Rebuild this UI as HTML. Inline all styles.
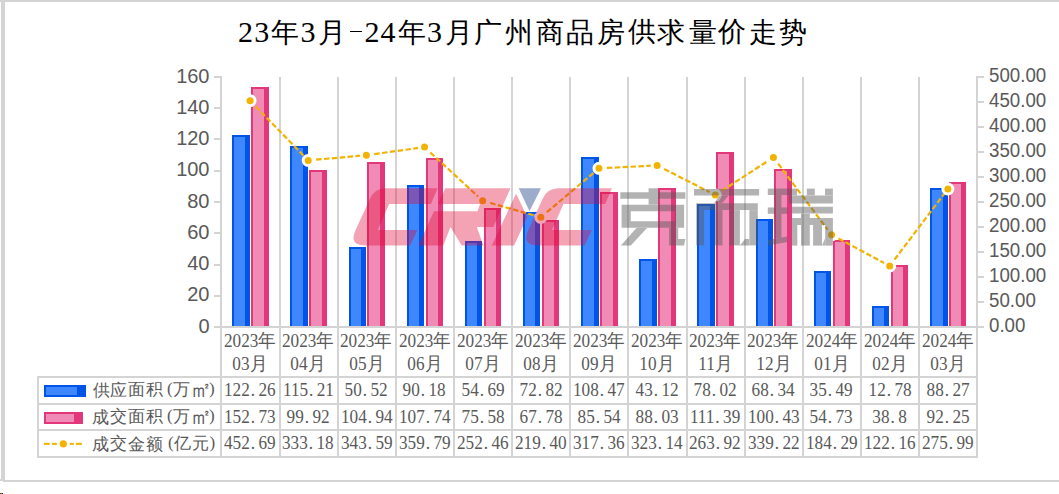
<!DOCTYPE html><html><head><meta charset="utf-8"><style>
*{margin:0;padding:0}
html,body{width:1059px;height:494px;overflow:hidden;background:#fff}
body{position:relative}
svg{position:absolute;left:0;top:0}
.tc,.td{position:absolute;width:40px;text-align:center;font-family:"Liberation Serif",serif;color:#000;top:14px;height:36px;line-height:36px}
.tc{font-size:27.5px;top:15.5px}
.td{font-size:30px;top:14.5px}
.lg{position:absolute;width:30px;height:25px;text-align:center;font-family:"Liberation Serif",serif;font-size:17px;line-height:25px;color:#595959}
.yl{position:absolute;left:150px;width:59.5px;text-align:right;font-family:"Liberation Sans",sans-serif;font-size:20px;line-height:22px;color:#595959}
.yr{position:absolute;left:989px;transform:scaleX(0.935);transform-origin:0 0;font-family:"Liberation Sans",sans-serif;font-size:20px;line-height:22px;color:#595959}
.cat{position:absolute;top:330px;width:58.15px;text-align:center;font-family:"Liberation Serif",serif;font-size:18.5px;line-height:23px;color:#595959;white-space:nowrap}
.cat span,.cell span{display:inline-block;transform:scaleX(0.93)}
.cell{position:absolute;width:58.15px;height:25px;text-align:center;font-family:"Liberation Serif",serif;font-size:18.5px;line-height:25px;color:#595959;white-space:nowrap}
.cell i{font-style:normal;display:inline-block;width:9.3px;text-align:left;text-indent:1px}
.leg{position:absolute;left:93px;height:25px;font-family:"Liberation Serif",serif;font-size:17.33px;line-height:25px;color:#595959;white-space:nowrap}
</style></head><body><svg width="1059" height="494" viewBox="0 0 1059 494"><rect x="0" y="0" width="1059" height="2" fill="#d4d4d4"/><rect x="1" y="0" width="4" height="480" fill="#d4d4d4"/><rect x="0" y="479" width="4" height="2" fill="#d4d4d4"/><rect x="3" y="480" width="1056" height="2" fill="#d4d4d4"/><rect x="0" y="493" width="1" height="1" fill="#f00"/><rect x="1" y="493" width="1" height="1" fill="#0c0"/><rect x="2" y="493" width="1" height="1" fill="#00f"/><rect x="220" y="76" width="2" height="382" fill="#d4d4d4"/><rect x="279" y="77" width="2" height="381" fill="#d4d4d4"/><rect x="337" y="77" width="2" height="381" fill="#d4d4d4"/><rect x="395" y="77" width="2" height="381" fill="#d4d4d4"/><rect x="453" y="77" width="2" height="381" fill="#d4d4d4"/><rect x="511" y="77" width="2" height="381" fill="#d4d4d4"/><rect x="569" y="77" width="2" height="381" fill="#d4d4d4"/><rect x="627" y="77" width="2" height="381" fill="#d4d4d4"/><rect x="686" y="77" width="2" height="381" fill="#d4d4d4"/><rect x="744" y="77" width="2" height="381" fill="#d4d4d4"/><rect x="802" y="77" width="2" height="381" fill="#d4d4d4"/><rect x="860" y="77" width="2" height="381" fill="#d4d4d4"/><rect x="918" y="77" width="2" height="381" fill="#d4d4d4"/><rect x="976" y="76" width="2" height="382" fill="#d4d4d4"/><rect x="214" y="326" width="7" height="2" fill="#d4d4d4"/><rect x="214" y="295" width="7" height="2" fill="#d4d4d4"/><rect x="214" y="264" width="7" height="2" fill="#d4d4d4"/><rect x="214" y="232" width="7" height="2" fill="#d4d4d4"/><rect x="214" y="201" width="7" height="2" fill="#d4d4d4"/><rect x="214" y="170" width="7" height="2" fill="#d4d4d4"/><rect x="214" y="138" width="7" height="2" fill="#d4d4d4"/><rect x="214" y="107" width="7" height="2" fill="#d4d4d4"/><rect x="214" y="76" width="7" height="2" fill="#d4d4d4"/><rect x="977" y="326" width="7" height="2" fill="#d4d4d4"/><rect x="977" y="301" width="7" height="2" fill="#d4d4d4"/><rect x="977" y="276" width="7" height="2" fill="#d4d4d4"/><rect x="977" y="251" width="7" height="2" fill="#d4d4d4"/><rect x="977" y="226" width="7" height="2" fill="#d4d4d4"/><rect x="977" y="201" width="7" height="2" fill="#d4d4d4"/><rect x="977" y="176" width="7" height="2" fill="#d4d4d4"/><rect x="977" y="151" width="7" height="2" fill="#d4d4d4"/><rect x="977" y="126" width="7" height="2" fill="#d4d4d4"/><rect x="977" y="101" width="7" height="2" fill="#d4d4d4"/><rect x="977" y="76" width="7" height="2" fill="#d4d4d4"/><rect x="221" y="326" width="756" height="2" fill="#d4d4d4"/><rect x="37" y="376" width="941" height="2" fill="#d4d4d4"/><rect x="37" y="403" width="941" height="2" fill="#d4d4d4"/><rect x="37" y="429" width="941" height="2" fill="#d4d4d4"/><rect x="37" y="456" width="941" height="2" fill="#d4d4d4"/><rect x="37" y="376" width="2" height="82" fill="#d4d4d4"/><rect x="232" y="135" width="18" height="191" fill="#0055e8"/><rect x="234" y="137" width="11" height="189" fill="#3f87ff"/><rect x="251" y="87" width="18" height="239" fill="#e2377a"/><rect x="253" y="89" width="11" height="237" fill="#ef8bb4"/><rect x="290" y="146" width="18" height="180" fill="#0055e8"/><rect x="292" y="148" width="11" height="178" fill="#3f87ff"/><rect x="309" y="170" width="18" height="156" fill="#e2377a"/><rect x="311" y="172" width="11" height="154" fill="#ef8bb4"/><rect x="349" y="247" width="17" height="79" fill="#0055e8"/><rect x="351" y="249" width="10" height="77" fill="#3f87ff"/><rect x="367" y="162" width="18" height="164" fill="#e2377a"/><rect x="369" y="164" width="11" height="162" fill="#ef8bb4"/><rect x="407" y="185" width="17" height="141" fill="#0055e8"/><rect x="409" y="187" width="10" height="139" fill="#3f87ff"/><rect x="426" y="158" width="17" height="168" fill="#e2377a"/><rect x="428" y="160" width="10" height="166" fill="#ef8bb4"/><rect x="465" y="241" width="17" height="85" fill="#0055e8"/><rect x="467" y="243" width="10" height="83" fill="#3f87ff"/><rect x="484" y="208" width="17" height="118" fill="#e2377a"/><rect x="486" y="210" width="10" height="116" fill="#ef8bb4"/><rect x="523" y="212" width="17" height="114" fill="#0055e8"/><rect x="525" y="214" width="10" height="112" fill="#3f87ff"/><rect x="542" y="220" width="17" height="106" fill="#e2377a"/><rect x="544" y="222" width="10" height="104" fill="#ef8bb4"/><rect x="581" y="157" width="18" height="169" fill="#0055e8"/><rect x="583" y="159" width="11" height="167" fill="#3f87ff"/><rect x="600" y="192" width="18" height="134" fill="#e2377a"/><rect x="602" y="194" width="11" height="132" fill="#ef8bb4"/><rect x="639" y="259" width="18" height="67" fill="#0055e8"/><rect x="641" y="261" width="11" height="65" fill="#3f87ff"/><rect x="658" y="188" width="18" height="138" fill="#e2377a"/><rect x="660" y="190" width="11" height="136" fill="#ef8bb4"/><rect x="697" y="204" width="18" height="122" fill="#0055e8"/><rect x="699" y="206" width="11" height="120" fill="#3f87ff"/><rect x="716" y="152" width="18" height="174" fill="#e2377a"/><rect x="718" y="154" width="11" height="172" fill="#ef8bb4"/><rect x="756" y="219" width="17" height="107" fill="#0055e8"/><rect x="758" y="221" width="10" height="105" fill="#3f87ff"/><rect x="774" y="169" width="18" height="157" fill="#e2377a"/><rect x="776" y="171" width="11" height="155" fill="#ef8bb4"/><rect x="814" y="271" width="17" height="55" fill="#0055e8"/><rect x="816" y="273" width="10" height="53" fill="#3f87ff"/><rect x="833" y="240" width="17" height="86" fill="#e2377a"/><rect x="835" y="242" width="10" height="84" fill="#ef8bb4"/><rect x="872" y="306" width="17" height="20" fill="#0055e8"/><rect x="874" y="308" width="10" height="18" fill="#3f87ff"/><rect x="891" y="265" width="17" height="61" fill="#e2377a"/><rect x="893" y="267" width="10" height="59" fill="#ef8bb4"/><rect x="930" y="188" width="18" height="138" fill="#0055e8"/><rect x="932" y="190" width="11" height="136" fill="#3f87ff"/><rect x="949" y="182" width="17" height="144" fill="#e2377a"/><rect x="951" y="184" width="10" height="142" fill="#ef8bb4"/><path d="M250.07,100.66 L308.23,160.41" fill="none" stroke="#f2b300" stroke-width="2.2" stroke-dasharray="5.5 2.4"/><path d="M308.23,160.41 L366.38,155.21" fill="none" stroke="#f2b300" stroke-width="2.2" stroke-dasharray="5.5 2.4"/><path d="M366.38,155.21 L424.52,147.10" fill="none" stroke="#f2b300" stroke-width="2.2" stroke-dasharray="5.5 2.4"/><path d="M424.52,147.10 L482.68,200.77" fill="none" stroke="#f2b300" stroke-width="2.2" stroke-dasharray="5.5 2.4"/><path d="M482.68,200.77 L540.83,217.30" fill="none" stroke="#f2b300" stroke-width="2.2" stroke-dasharray="5.5 2.4"/><path d="M540.83,217.30 L598.97,168.32" fill="none" stroke="#f2b300" stroke-width="2.2" stroke-dasharray="5.5 2.4"/><path d="M598.97,168.32 L657.12,165.43" fill="none" stroke="#f2b300" stroke-width="2.2" stroke-dasharray="5.5 2.4"/><path d="M657.12,165.43 L715.27,195.04" fill="none" stroke="#f2b300" stroke-width="2.2" stroke-dasharray="5.5 2.4"/><path d="M715.27,195.04 L773.42,157.39" fill="none" stroke="#f2b300" stroke-width="2.2" stroke-dasharray="5.5 2.4"/><path d="M773.42,157.39 L831.57,234.86" fill="none" stroke="#f2b300" stroke-width="2.2" stroke-dasharray="5.5 2.4"/><path d="M831.57,234.86 L889.73,265.92" fill="none" stroke="#f2b300" stroke-width="2.2" stroke-dasharray="5.5 2.4"/><path d="M889.73,265.92 L947.88,189.00" fill="none" stroke="#f2b300" stroke-width="2.2" stroke-dasharray="5.5 2.4"/><circle cx="250.07" cy="100.66" r="5.0" fill="#f2b300" stroke="#fff" stroke-width="3"/><circle cx="308.23" cy="160.41" r="5.0" fill="#f2b300" stroke="#fff" stroke-width="3"/><circle cx="366.38" cy="155.21" r="5.0" fill="#f2b300" stroke="#fff" stroke-width="3"/><circle cx="424.52" cy="147.10" r="5.0" fill="#f2b300" stroke="#fff" stroke-width="3"/><circle cx="482.68" cy="200.77" r="5.0" fill="#f2b300" stroke="#fff" stroke-width="3"/><circle cx="540.83" cy="217.30" r="5.0" fill="#f2b300" stroke="#fff" stroke-width="3"/><circle cx="598.97" cy="168.32" r="5.0" fill="#f2b300" stroke="#fff" stroke-width="3"/><circle cx="657.12" cy="165.43" r="5.0" fill="#f2b300" stroke="#fff" stroke-width="3"/><circle cx="715.27" cy="195.04" r="5.0" fill="#f2b300" stroke="#fff" stroke-width="3"/><circle cx="773.42" cy="157.39" r="5.0" fill="#f2b300" stroke="#fff" stroke-width="3"/><circle cx="831.57" cy="234.86" r="5.0" fill="#f2b300" stroke="#fff" stroke-width="3"/><circle cx="889.73" cy="265.92" r="5.0" fill="#f2b300" stroke="#fff" stroke-width="3"/><circle cx="947.88" cy="189.00" r="5.0" fill="#f2b300" stroke="#fff" stroke-width="3"/><rect x="44" y="385" width="42" height="12" fill="#0055e8"/><rect x="46" y="387" width="31" height="8" fill="#3f87ff"/><rect x="44" y="412" width="39" height="12" fill="#e2377a"/><rect x="46" y="414" width="28" height="8" fill="#ef8bb4"/><rect x="44" y="442.8" width="5.7" height="2.1" fill="#f2b300"/><rect x="52" y="442.8" width="4.8" height="2.1" fill="#f2b300"/><rect x="69.7" y="442.8" width="4.1" height="2.1" fill="#f2b300"/><rect x="75.9" y="442.8" width="5.9" height="2.1" fill="#f2b300"/><circle cx="63.3" cy="443.8" r="3.6" fill="#f2b300"/></svg><span class="td" style="left:225.5px;top:13.9px">2</span><span class="td" style="left:241.7px;top:13.9px">3</span><span class="tc" style="left:264.9px;top:14.6px">年</span><span class="td" style="left:288.1px;top:13.9px">3</span><span class="tc" style="left:312.2px;top:14.6px">月</span><span style="position:absolute;left:350px;top:31px;width:12px;height:1px;background:#000"></span><span class="td" style="left:352.1px;top:13.9px">2</span><span class="td" style="left:367.9px;top:13.9px">4</span><span class="tc" style="left:392.1px;top:14.6px">年</span><span class="td" style="left:414.6px;top:13.9px">3</span><span class="tc" style="left:439.0px;top:14.6px">月</span><span class="tc" style="left:468.3px;top:15.1px">广</span><span class="tc" style="left:499.0px;top:15.1px">州</span><span class="tc" style="left:530.4px;top:15.1px">商</span><span class="tc" style="left:560.1px;top:14.6px">品</span><span class="tc" style="left:590.6px;top:14.6px">房</span><span class="tc" style="left:621.5px;top:14.1px">供</span><span class="tc" style="left:651.4px;top:14.6px">求</span><span class="tc" style="left:682.5px;top:15.1px">量</span><span class="tc" style="left:711.9px;top:14.1px">价</span><span class="tc" style="left:742.9px;top:15.1px">走</span><span class="tc" style="left:772.5px;top:14.6px">势</span><div class="yl" style="top:314.5px">0</div><div class="yl" style="top:283.2px">20</div><div class="yl" style="top:252.0px">40</div><div class="yl" style="top:220.8px">60</div><div class="yl" style="top:189.5px">80</div><div class="yl" style="top:158.2px">100</div><div class="yl" style="top:127.0px">120</div><div class="yl" style="top:95.8px">140</div><div class="yl" style="top:64.5px">160</div><div class="yr" style="top:314.3px">0.00</div><div class="yr" style="top:289.3px">50.00</div><div class="yr" style="top:264.3px">100.00</div><div class="yr" style="top:239.3px">150.00</div><div class="yr" style="top:214.3px">200.00</div><div class="yr" style="top:189.3px">250.00</div><div class="yr" style="top:164.3px">300.00</div><div class="yr" style="top:139.3px">350.00</div><div class="yr" style="top:114.3px">400.00</div><div class="yr" style="top:89.3px">450.00</div><div class="yr" style="top:64.3px">500.00</div><div class="cat" style="left:221.00px"><span>2023年</span><br><span>03月</span></div><div class="cat" style="left:279.15px"><span>2023年</span><br><span>04月</span></div><div class="cat" style="left:337.30px"><span>2023年</span><br><span>05月</span></div><div class="cat" style="left:395.45px"><span>2023年</span><br><span>06月</span></div><div class="cat" style="left:453.60px"><span>2023年</span><br><span>07月</span></div><div class="cat" style="left:511.75px"><span>2023年</span><br><span>08月</span></div><div class="cat" style="left:569.90px"><span>2023年</span><br><span>09月</span></div><div class="cat" style="left:628.05px"><span>2023年</span><br><span>10月</span></div><div class="cat" style="left:686.20px"><span>2023年</span><br><span>11月</span></div><div class="cat" style="left:744.35px"><span>2023年</span><br><span>12月</span></div><div class="cat" style="left:802.50px"><span>2024年</span><br><span>01月</span></div><div class="cat" style="left:860.65px"><span>2024年</span><br><span>02月</span></div><div class="cat" style="left:918.80px"><span>2024年</span><br><span>03月</span></div><div class="cell" style="left:221.00px;top:378px"><span>122<i>.</i>26</span></div><div class="cell" style="left:279.15px;top:378px"><span>115<i>.</i>21</span></div><div class="cell" style="left:337.30px;top:378px"><span>50<i>.</i>52</span></div><div class="cell" style="left:395.45px;top:378px"><span>90<i>.</i>18</span></div><div class="cell" style="left:453.60px;top:378px"><span>54<i>.</i>69</span></div><div class="cell" style="left:511.75px;top:378px"><span>72<i>.</i>82</span></div><div class="cell" style="left:569.90px;top:378px"><span>108<i>.</i>47</span></div><div class="cell" style="left:628.05px;top:378px"><span>43<i>.</i>12</span></div><div class="cell" style="left:686.20px;top:378px"><span>78<i>.</i>02</span></div><div class="cell" style="left:744.35px;top:378px"><span>68<i>.</i>34</span></div><div class="cell" style="left:802.50px;top:378px"><span>35<i>.</i>49</span></div><div class="cell" style="left:860.65px;top:378px"><span>12<i>.</i>78</span></div><div class="cell" style="left:918.80px;top:378px"><span>88<i>.</i>27</span></div><div class="cell" style="left:221.00px;top:405px"><span>152<i>.</i>73</span></div><div class="cell" style="left:279.15px;top:405px"><span>99<i>.</i>92</span></div><div class="cell" style="left:337.30px;top:405px"><span>104<i>.</i>94</span></div><div class="cell" style="left:395.45px;top:405px"><span>107<i>.</i>74</span></div><div class="cell" style="left:453.60px;top:405px"><span>75<i>.</i>58</span></div><div class="cell" style="left:511.75px;top:405px"><span>67<i>.</i>78</span></div><div class="cell" style="left:569.90px;top:405px"><span>85<i>.</i>54</span></div><div class="cell" style="left:628.05px;top:405px"><span>88<i>.</i>03</span></div><div class="cell" style="left:686.20px;top:405px"><span>111<i>.</i>39</span></div><div class="cell" style="left:744.35px;top:405px"><span>100<i>.</i>43</span></div><div class="cell" style="left:802.50px;top:405px"><span>54<i>.</i>73</span></div><div class="cell" style="left:860.65px;top:405px"><span>38<i>.</i>8</span></div><div class="cell" style="left:918.80px;top:405px"><span>92<i>.</i>25</span></div><div class="cell" style="left:221.00px;top:431px"><span>452<i>.</i>69</span></div><div class="cell" style="left:279.15px;top:431px"><span>333<i>.</i>18</span></div><div class="cell" style="left:337.30px;top:431px"><span>343<i>.</i>59</span></div><div class="cell" style="left:395.45px;top:431px"><span>359<i>.</i>79</span></div><div class="cell" style="left:453.60px;top:431px"><span>252<i>.</i>46</span></div><div class="cell" style="left:511.75px;top:431px"><span>219<i>.</i>40</span></div><div class="cell" style="left:569.90px;top:431px"><span>317<i>.</i>36</span></div><div class="cell" style="left:628.05px;top:431px"><span>323<i>.</i>14</span></div><div class="cell" style="left:686.20px;top:431px"><span>263<i>.</i>92</span></div><div class="cell" style="left:744.35px;top:431px"><span>339<i>.</i>22</span></div><div class="cell" style="left:802.50px;top:431px"><span>184<i>.</i>29</span></div><div class="cell" style="left:860.65px;top:431px"><span>122<i>.</i>16</span></div><div class="cell" style="left:918.80px;top:431px"><span>275<i>.</i>99</span></div><span class="lg" style="left:86.4px;top:377.5px;font-size:17px">供</span><span class="lg" style="left:103.3px;top:378.0px;font-size:17px">应</span><span class="lg" style="left:121.6px;top:377.0px;font-size:17px">面</span><span class="lg" style="left:139.5px;top:377.0px;font-size:17px">积</span><span class="lg" style="left:154.9px;top:375.5px;font-size:17px">(</span><span class="lg" style="left:166.8px;top:377.0px;font-size:17px">万</span><span class="lg" style="left:185.6px;top:376.5px;font-size:22px">㎡</span><span class="lg" style="left:196.9px;top:375.5px;font-size:17px">)</span><span class="lg" style="left:85.3px;top:404.5px;font-size:17px">成</span><span class="lg" style="left:103.8px;top:404.0px;font-size:17px">交</span><span class="lg" style="left:121.6px;top:404.0px;font-size:17px">面</span><span class="lg" style="left:139.5px;top:404.0px;font-size:17px">积</span><span class="lg" style="left:154.9px;top:402.5px;font-size:17px">(</span><span class="lg" style="left:166.8px;top:404.0px;font-size:17px">万</span><span class="lg" style="left:185.6px;top:403.5px;font-size:22px">㎡</span><span class="lg" style="left:196.9px;top:402.5px;font-size:17px">)</span><span class="lg" style="left:85.3px;top:431.6px;font-size:17px">成</span><span class="lg" style="left:103.8px;top:431.1px;font-size:17px">交</span><span class="lg" style="left:121.0px;top:432.1px;font-size:17px">金</span><span class="lg" style="left:139.2px;top:431.6px;font-size:17px">额</span><span class="lg" style="left:155.9px;top:429.6px;font-size:17px">(</span><span class="lg" style="left:167.8px;top:431.1px;font-size:17px">亿</span><span class="lg" style="left:185.9px;top:431.1px;font-size:17px">元</span><span class="lg" style="left:197.4px;top:429.6px;font-size:17px">)</span><svg width="1059" height="494" viewBox="0 0 1059 494" style="position:absolute;left:0;top:0"><g opacity="0.37"><path d="M385.8,188.3 L437.6,188.3 L430.9,204 L389.2,204 L377.7,230 L417.5,230 L410.2,245.5 L365.5,245.5 Q348.5,245.5 355.6,230.1 L370.2,198.3 Q374.8,188.3 385.8,188.3 Z M445.3,188.3 L510.4,188.3 L493.3,227.1 L476.8,227.1 L483.4,245.5 L461.7,245.5 L450.5,227.1 L443.3,245.5 L418.3,245.5 L434,211.3 L477.5,211.3 L480.1,204 L438,204 Z M491.8,245.5 L516.1,193.6 L527.2,217.1 L514.1,245.5 Z M558.5,188.3 L611.9,188.3 L605.2,204 L563.5,204 L552.0,230 L591.8,230 L584.5,245.5 L538.2,245.5 Q521.2,245.5 528.3,230.1 L542.9,198.3 Q547.5,188.3 558.5,188.3 Z" fill="rgb(224,5,51)"/></g><path d="M518.7,188.3 L541,188.3 L529.5,211.3 Z" fill="rgb(61,89,153)" fill-opacity="0.5"/><g opacity="0.45" fill="rgb(88,88,88)"><path d="M648.6,188.3 H658.4 V204.7 H648.6 Z" fill-rule="evenodd"/><path d="M620.3,192.2 H685.4 V198.8 H620.3 Z" fill-rule="evenodd"/><path d="M621.6,204.7 H684.1 V227.8 H621.6 Z M630.8,211.3 V221.2 H674.9 V211.3 Z" fill-rule="evenodd"/><path d="M636.7,227.8 L647.2,227.8 L630.8,245.5 L620.9,245.5 Z" fill-rule="evenodd"/><path d="M669,227.8 H678.2 V239 H669 Z" fill-rule="evenodd"/><path d="M669,239 H685.4 L684,245.5 H669 Z" fill-rule="evenodd"/><path d="M694,188.9 H759.1 V195.5 H694 Z" fill-rule="evenodd"/><path d="M719.5,195.5 H728.5 L722,203.3 H714 Z" fill-rule="evenodd"/><path d="M696.2,203.3 H757.8 V210.1 H696.2 Z" fill-rule="evenodd"/><path d="M696.2,210.1 H704.1 V245.4 H696.2 Z" fill-rule="evenodd"/><path d="M714.5,210.1 H722.5 V245.4 H714.5 Z" fill-rule="evenodd"/><path d="M729.4,210.1 H739.9 V245.4 H729.4 Z" fill-rule="evenodd"/><path d="M749.4,210.1 H757.8 V245.4 H749.4 Z" fill-rule="evenodd"/><path d="M739.9,245.4 L745,239 H749.4 V245.4 Z" fill-rule="evenodd"/><path d="M767.8,188.6 H787.5 V195 H767.8 Z" fill-rule="evenodd"/><path d="M767.8,207.4 H787.5 V213.8 H767.8 Z" fill-rule="evenodd"/><path d="M775,195 H781.4 V238.5 H775 Z" fill-rule="evenodd"/><path d="M768,240 L787.2,236.4 V242 L768,245.5 Z" fill-rule="evenodd"/><path d="M787.5,188.6 H797 V195.5 H787.5 Z" fill-rule="evenodd"/><path d="M806.8,188.6 H814.8 V195.5 H806.8 Z" fill-rule="evenodd"/><path d="M825,188.6 H832.9 V195.5 H825 Z" fill-rule="evenodd"/><path d="M789,195.5 H832.9 V203.4 H789 Z" fill-rule="evenodd"/><path d="M792,206.7 H832.9 V213.6 H792 Z" fill-rule="evenodd"/><path d="M801,213.6 H809.8 V218.1 H801 Z" fill-rule="evenodd"/><path d="M792,218.1 H832.9 V225 H792 Z" fill-rule="evenodd"/><path d="M792,225 H797.3 V245.6 H792 Z" fill-rule="evenodd"/><path d="M801,225 H809.8 V245.6 H801 Z" fill-rule="evenodd"/><path d="M813.1,225 H822 V245.6 H813.1 Z" fill-rule="evenodd"/><path d="M825.2,225 H832.9 V245.6 H825.2 Z" fill-rule="evenodd"/><path d="M822,245.6 L825.2,238 V245.6 Z" fill-rule="evenodd"/></g></svg></body></html>
